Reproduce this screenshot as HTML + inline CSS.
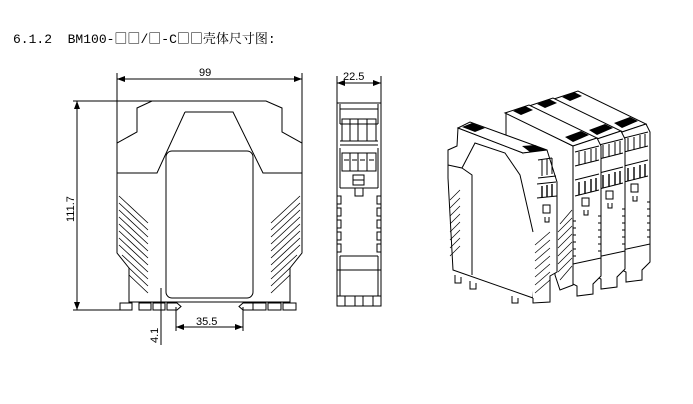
<!DOCTYPE html>
<html><head><meta charset="utf-8"><style>
html,body{margin:0;padding:0;background:#fff;}
body{width:693px;height:404px;overflow:hidden;position:relative;}
.t{position:absolute;left:13px;top:30px;font-family:"Liberation Mono","Noto Serif CJK SC",monospace;font-size:13px;line-height:16px;color:#000;white-space:pre;}
.c{font-family:"Noto Serif CJK SC",serif;}
</style></head><body>
<div class="t">6.1.2  BM100-<span class="c">□□</span>/<span class="c">□</span>-C<span class="c">□□壳体尺寸图</span>:</div>
<svg width="693" height="404" style="position:absolute;left:0;top:0" xmlns="http://www.w3.org/2000/svg">
<defs>
<marker id="a" markerWidth="8" markerHeight="6" refX="8" refY="3" orient="auto-start-reverse"><path d="M0,0 L8,3 L0,6 z" fill="#000"/></marker>
<g id="mod">
  <!-- top face -->
  <path d="M0,0 L-68,-33 L-44,-41 L24,-8 Z" fill="#fff"/>
  <path d="M-60,-35 L-48,-40 L-40,-36 L-52,-31 Z M-8,-9 L8,-15 L16,-11 L0,-4 Z" fill="#000" stroke="none"/>
  <!-- front face -->
  <path d="M0,0 L24,-8 L28,0 L28,130 L20,138 L20,148 L4,150 L4,140 L0,138 Z" fill="#fff"/>
  <path d="M2,6 L26,0 M2,20 L26,14 M2,34 L26,28 M2,50 L26,44"/>
  <path d="M6,6 v13 M12,5 v13 M18,3 v13 M23,2 v13"/>
  <path d="M6,36 v13 M12,35 v13 M18,33 v13 M23,32 v13" stroke-width="1.4"/>
  <rect x="9" y="52" width="7" height="8"/>
  <path d="M11,64 v5 h4 v-5"/>
  <path d="M0,75 h3 M0,82 h3 M0,89 h3 M0,96 h3 M0,103 h3 M0,110 h3 M25,70 h3 M25,77 h3 M25,84 h3 M25,91 h3 M25,98 h3 M25,105 h3"/>
  <path d="M0,118 L28,112"/>
</g>
</defs>
<g fill="none" stroke="#000" stroke-width="1">
<!-- 99 dim -->
<line x1="117" y1="73" x2="117" y2="145"/><line x1="302" y1="73" x2="302" y2="145"/>
<line x1="117" y1="79" x2="302" y2="79" marker-start="url(#a)" marker-end="url(#a)"/>
<!-- height dim -->
<line x1="73" y1="101" x2="152" y2="101"/><line x1="73" y1="310" x2="125" y2="310"/>
<line x1="77" y1="101" x2="77" y2="310" marker-start="url(#a)" marker-end="url(#a)"/>
<!-- body -->
<path d="M152,101 L266,101 L282,108 L282,132 L302,143 L302,253 L290,268 L290,302 L129,302 L129,268 L117,253 L117,143 L137,132 L137,108 Z"/>
<path d="M185,112 L233,112 L263,173 L302,173 M117,173 L157,173 L185,112"/>
<rect x="166" y="151" width="87" height="147" rx="6"/>
<g stroke-width="0.8">
<path d="M119,196 L148,223 M119,203 L148,230 M119,210 L148,237 M119,217 L148,244 M119,224 L148,251 M119,231 L148,258 M119,238 L148,265 M119,245 L148,272 M122,255 L148,279 M129,268 L148,286 M129,275 L148,293"/>
<path d="M300,196 L271,223 M300,203 L271,230 M300,210 L271,237 M300,217 L271,244 M300,224 L271,251 M300,231 L271,258 M300,238 L271,265 M300,245 L271,272 M297,255 L271,279 M290,268 L271,286 M290,275 L271,293"/>
</g>
<path d="M120,303 h12 v7 h-12 z M139,303 h12 v7 h-12 z M153,303 h12 v7 h-12 z M167,303 h10 l4,3.5 l-4,3.5 h-10 z"/>
<path d="M253,303 h-10 l-4,3.5 l4,3.5 h10 z M253,303 h13 v7 h-13 z M268,303 h13 v7 h-13 z M283,303 h13 v7 h-13 z"/>
<line x1="176" y1="307" x2="176" y2="331"/><line x1="243" y1="307" x2="243" y2="331"/>
<line x1="176" y1="327" x2="243" y2="327" marker-start="url(#a)" marker-end="url(#a)"/>
<line x1="161" y1="288" x2="161" y2="345"/>
<!-- side view -->
<line x1="337" y1="76" x2="337" y2="103"/><line x1="381" y1="76" x2="381" y2="103"/>
<line x1="337" y1="83" x2="381" y2="83" marker-start="url(#a)" marker-end="url(#a)"/>
<rect x="337" y="103" width="44" height="203"/>
<path d="M340,104 v20 M378,104 v20 M340,109 h38 M340,124 h38"/>
<rect x="342" y="119" width="34" height="22"/>
<path d="M350,119 v22 M358,119 v22 M367,119 v22"/>
<path d="M340,141 h38 M340,145 h38 M340,148 v40 M378,148 v40"/>
<rect x="342" y="153" width="34" height="18"/>
<path d="M350,153 v18 M358,153 v18 M367,153 v18 M344,160 h5 M352,160 h5 M360,160 h5 M369,160 h5"/>
<rect x="353" y="175" width="11" height="10"/><path d="M353,180 h11"/>
<path d="M340,188 h38 M355,188 v8 h8 v-8"/>
<path d="M337,196 h4 v8 h-4 M337,208 h4 v8 h-4 M337,220 h4 v8 h-4 M337,232 h4 v8 h-4 M337,244 h4 v8 h-4"/>
<path d="M381,196 h-4 v8 h4 M381,208 h-4 v8 h4 M381,220 h-4 v8 h4 M381,232 h-4 v8 h4 M381,244 h-4 v8 h4"/>
<path d="M340,256 h38 M337,270 h44 M340,256 v40 M378,256 v40 M337,296 h44 M345,296 v10 M355,296 v10 M363,296 v10 M373,296 v10"/>
</g>
<g font-family="Liberation Sans,sans-serif" font-size="11" fill="#000">
<text x="199" y="76">99</text>
<text x="343" y="80">22.5</text>
<text x="196" y="325">35.5</text>
<text transform="translate(74,222) rotate(-90)">111.7</text>
<text transform="translate(158,343) rotate(-90)">4.1</text>
</g>
<!-- isometric: back stack -->
<g stroke="#000" stroke-width="1" fill="none">
<!-- side face of first back module -->
<path d="M506,113 L573,146 L573,285 L560,290 L555,275 L556,215 L540,175 L520,160 L506,140 Z" fill="#fff"/>
<path d="M558,240 L572,226 M558,248 L572,234 M558,256 L572,242 M558,264 L572,250 M558,272 L572,258 M560,280 L572,266 M558,232 L572,218 M560,224 L572,210" stroke-width="0.7"/>
<use href="#mod" x="622" y="132"/>
<use href="#mod" x="597" y="139"/>
<use href="#mod" x="573" y="146"/>
<!-- front module -->
<path d="M458,128 L523,153 L537,182 L537,225 L533,232 L533,298 L453,270 L448,178 L448,150 L457,146 Z" fill="#fff"/>
<path d="M458,128 L470,122 L547,150 L523,153 Z" fill="#fff"/>
<path d="M462,127 L472,123 L485,128 L475,132 Z M522,146 L535,145 L546,150 L530,152 Z" fill="#000" stroke="none"/>
<path d="M523,153 L547,150 L557,182 L557,272 L550,276 L550,302 L533,303 L533,298" fill="#fff"/>
<path d="M448,165 L462,168 L475,143 L505,153 L520,175 L533,232 M462,168 L472,175 L472,275"/>
<path d="M538,160 L552,158 M538,178 L556,176 M537,184 L556,182 M537,198 L557,196"/>
<path d="M542,160 v16 M547,159 v16 M552,158 v16"/>
<path d="M542,186 v12 M547,185 v12 M552,184 v12" stroke-width="1.4"/>
<rect x="543" y="205" width="7" height="8"/><path d="M545,217 v5 h4 v-5"/>
<path d="M450,200 L460,190 M450,208 L460,198 M450,216 L460,206 M450,224 L460,214 M450,232 L460,222 M450,240 L460,230 M450,248 L460,238 M450,256 L460,246" stroke-width="0.7"/>
<path d="M535,245 L550,232 M535,253 L550,240 M535,261 L550,248 M535,269 L550,256 M535,277 L550,264 M535,285 L550,272 M535,293 L550,280" stroke-width="0.7"/>
<path d="M455,275 v8 h6 v-6 M470,281 v8 h6 v-6 M512,296 v7 h6 v-5"/>
</g>
</svg>
</body></html>
